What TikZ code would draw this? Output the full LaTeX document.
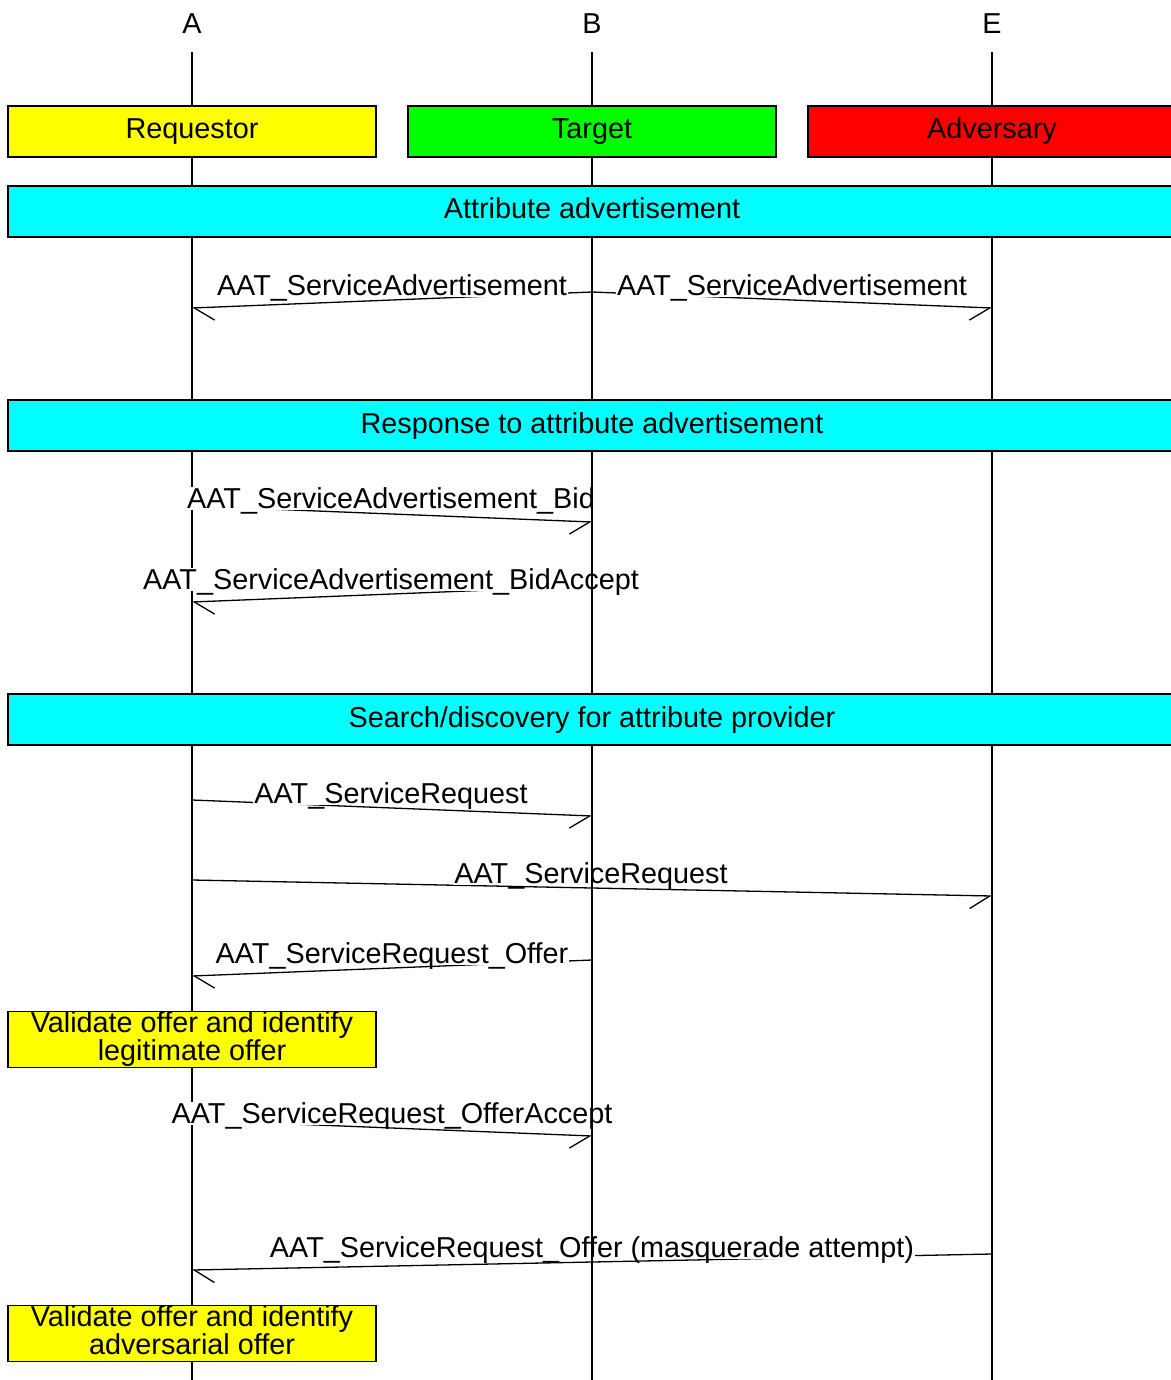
\documentclass[tikz,border=0pt]{standalone}
\usepackage{fontspec}
\setmainfont{Liberation Sans}
\usetikzlibrary{arrows.meta}
\definecolor{mscyellow}{RGB}{255,255,0}
\definecolor{mscgreen}{RGB}{0,255,0}
\definecolor{mscred}{RGB}{255,0,0}
\definecolor{msccyan}{RGB}{0,255,255}
\begin{document}
\begin{tikzpicture}[x=1pt,y=-1pt,
  txt/.style={font=\fontsize{28.8}{23}\selectfont},
  lifeline/.style={line width=1.3pt},
  hdr/.style={txt, anchor=base, inner sep=0pt},
  boxbase/.style={txt, draw=black, line width=1.5pt, inner sep=0pt, minimum height=51pt, align=center},
  entbox/.style={boxbase, minimum width=368pt, text height=21pt, text depth=6pt},
  bandbox/.style={boxbase, fill=msccyan, minimum width=1168pt, text height=21pt, text depth=6pt},
  notebox/.style={boxbase, fill=mscyellow, minimum width=368pt},
  msgE/.style={line width=1.3pt, -{Straight Barb[harpoon,swap,length=20pt,width=26pt]}},
  msgW/.style={line width=1.3pt, -{Straight Barb[harpoon,length=20pt,width=26pt]}},
  msglabel/.style={txt, anchor=base, fill=white, inner xsep=1pt, inner ysep=0pt, text height=21pt, text depth=2pt}
]
\useasboundingbox (0,0) rectangle (1170,1380);

% lifeline ends
\coordinate (Atop) at (192,52);  \coordinate (Abot) at (192,1380);
\coordinate (Btop) at (592,52);  \coordinate (Bbot) at (592,1380);
\coordinate (Etop) at (992,52);  \coordinate (Ebot) at (992,1380);

% message end points
\coordinate (m1s) at (592,292);  \coordinate (m1e) at (192,308);
\coordinate (m2s) at (592,292);  \coordinate (m2e) at (992,308);
\coordinate (m3s) at (192,506);  \coordinate (m3e) at (592,522);
\coordinate (m4s) at (592,586);  \coordinate (m4e) at (192,602);
\coordinate (m5s) at (192,800);  \coordinate (m5e) at (592,816);
\coordinate (m6s) at (192,880);  \coordinate (m6e) at (992,896);
\coordinate (m7s) at (592,960);  \coordinate (m7e) at (192,976);
\coordinate (m8s) at (192,1120); \coordinate (m8e) at (592,1136);
\coordinate (m9s) at (992,1254); \coordinate (m9e) at (192,1270);

% lifeline A (under labels)
\draw[lifeline] (Atop) -- (Abot);

% message arrows
\draw[msgW] (m1s) -- (m1e);
\draw[msgE] (m2s) -- (m2e);
\draw[msgE] (m3s) -- (m3e);
\draw[msgW] (m4s) -- (m4e);
\draw[msgE] (m5s) -- (m5e);
\draw[msgE] (m6s) -- (m6e);
\draw[msgW] (m7s) -- (m7e);
\draw[msgE] (m8s) -- (m8e);
\draw[msgW] (m9s) -- (m9e);

% message labels
\node[msglabel] (l1) at (392,295) {AAT\_ServiceAdvertisement};
\node[msglabel] (l2) at (792,295) {AAT\_ServiceAdvertisement};
\node[msglabel] (l3) at (391,508) {AAT\_ServiceAdvertisement\_Bid};
\node[msglabel] (l4) at (391,589) {AAT\_ServiceAdvertisement\_BidAccept};
\node[msglabel] (l5) at (391,803) {AAT\_ServiceRequest};
\node[msglabel] (l6) at (591,883) {AAT\_ServiceRequest};
\node[msglabel] (l7) at (392,963) {AAT\_ServiceRequest\_Offer};
\node[msglabel] (l8) at (392,1123) {AAT\_ServiceRequest\_OfferAccept};
\node[msglabel] (l9) at (592,1257) {AAT\_ServiceRequest\_Offer (masquerade attempt)};

% lifelines B and E (over labels)
\draw[lifeline] (Btop) -- (Bbot);
\draw[lifeline] (Etop) -- (Ebot);

% entity headers
\node[hdr] (hA) at (192,34) {A};
\node[hdr] (hB) at (592,34) {B};
\node[hdr] (hE) at (992,34) {E};

% entity boxes
\node[entbox, fill=mscyellow] (req) at (192,131.5) {Requestor};
\node[entbox, fill=mscgreen]  (tgt) at (592,131.5) {Target};
\node[entbox, fill=mscred]    (adv) at (992,131.5) {Adversary};

% phase bands
\node[bandbox] (ph1) at (592,211.5) {Attribute advertisement};
\node[bandbox] (ph2) at (592,425.5) {Response to attribute advertisement};
\node[bandbox] (ph3) at (592,719.5) {Search/discovery for attribute provider};

% notes
\node[notebox] (n1) at (192,1039.5) {Validate offer and identify\\legitimate offer\strut};
\node[notebox] (n2) at (192,1333.5) {Validate offer and identify\\adversarial offer\strut};
\end{tikzpicture}
\end{document}
